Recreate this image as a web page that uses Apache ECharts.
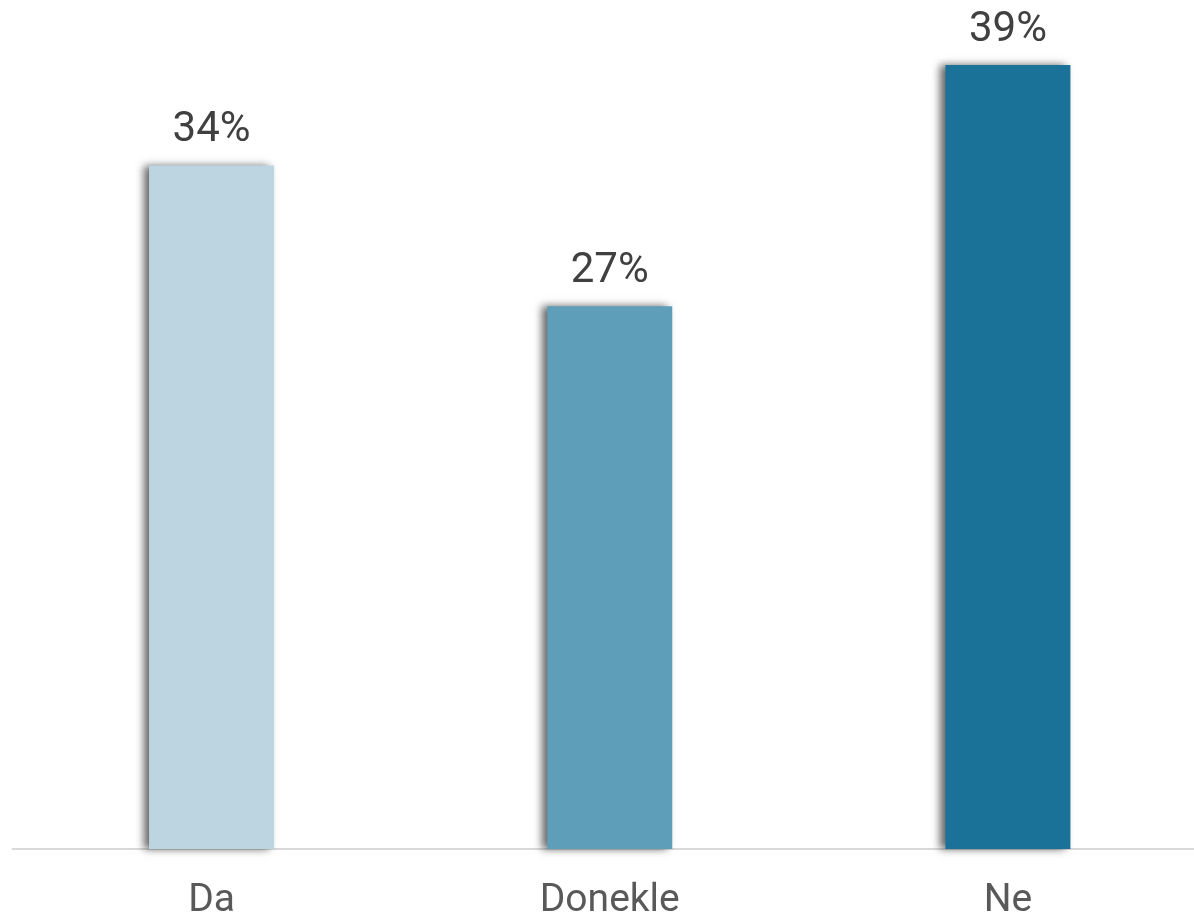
<!DOCTYPE html>
<html><head><meta charset="utf-8">
<script src="https://cdn.jsdelivr.net/npm/echarts@6/dist/echarts.min.js"></script>
<style>html,body{margin:0;padding:0;background:#fff;overflow:hidden;width:1194px;height:918px}#c{width:1207px;height:918px}</style>
</head><body><div id="c"></div>
<script>
const categories = ['Da', 'Donekle', 'Ne'];
const values = [34, 27, 39];
const colors = ['#BDD5E1', '#5F9EB9', '#1A7299'];

const chart = echarts.init(document.getElementById('c'));
chart.setOption({
  animation: false,
  grid: { left: 12.5, right: 0, top: 45, bottom: 69, containLabel: false, outerBoundsMode: 'none' },
  xAxis: {
    type: 'category', data: categories,
    axisLine: { lineStyle: { color: '#D9D9D9', width: 2 } },
    axisTick: { show: false },
    axisLabel: { color: '#595959', fontSize: 39, fontFamily: 'Roboto', margin: 33 }
  },
  yAxis: { type: 'value', min: 0, max: 40, show: false, splitLine: { show: false } },
  series: [{
    type: 'bar', barWidth: 125,
    data: values.map((v, i) => ({ value: v, itemStyle: { color: colors[i] } })),
    itemStyle: { shadowColor: 'rgba(0,0,0,0.6)', shadowBlur: 8, shadowOffsetX: -5, shadowOffsetY: 0 },
    label: { show: true, position: 'top', distance: 14, formatter: '{c}%', color: '#404040', fontSize: 42, fontFamily: 'Roboto' }
  }]
});
</script></body></html>
